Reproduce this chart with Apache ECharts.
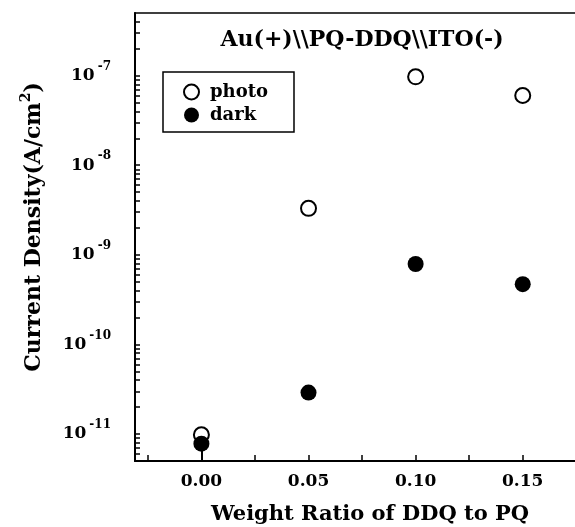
<!DOCTYPE html>
<html>
<head>
<meta charset="utf-8">
<script src="https://cdn.jsdelivr.net/npm/echarts@6/dist/echarts.min.js"></script>
<style>
html, body { margin: 0; padding: 0; background: #fff; }
#chart { width: 575px; height: 527px; }
</style>
</head>
<body>
<div id="chart"></div>
<script>
// weight ratio of DDQ to PQ
var ratios = [0.00, 0.05, 0.10, 0.15]
// current density, A/cm^2
var photo = [9.8e-12, 3.3e-9, 9.7e-8, 6.0e-8]
var dark = [7.8e-12, 2.9e-11, 7.9e-10, 4.7e-10]

var xLabelValues = [0, 0.05, 0.10, 0.15]
var xTickValues = [-0.025, 0, 0.025, 0.05, 0.075, 0.10, 0.125, 0.15, 0.175]
var yDecades = [-11, -10, -9, -8, -7]
var yMin = 5e-12
var yMax = 5e-7

var FONT = 'DejaVu Serif'

// y is drawn as log10 on a value axis so ticks can be placed exactly
var lo = Math.log10(yMin)
var hi = Math.log10(yMax)
var yTicks = []
for (var n = -12; n <= -7; n++) {
  for (var k = 1; k <= 9; k++) {
    var t = n + Math.log10(k)
    if (t > lo && t < hi) yTicks.push(t)
  }
}

function toPoints (vals) {
  return vals.map(function (v, i) { return [ratios[i], Math.log10(v)] })
}

var myChart = echarts.init(document.getElementById('chart'))

var option = {
  backgroundColor: '#fff',
  animation: false,
  title: {
    text: 'Au(+)\\\\PQ-DDQ\\\\ITO(-)',
    left: 357,
    top: 24,
    textAlign: 'center',
    textStyle: { fontFamily: FONT, fontWeight: 'bold', fontSize: 22, color: '#000' }
  },
  legend: {
    orient: 'vertical',
    left: 163,
    top: 72,
    padding: [11, 26, 8, 20],
    itemGap: 5,
    itemWidth: 15,
    itemHeight: 15,
    borderColor: '#000',
    borderWidth: 1.5,
    borderRadius: 0,
    textStyle: { fontFamily: FONT, fontWeight: 'bold', fontSize: 18, color: '#000', padding: [0, 0, 0, 6] },
    data: ['photo', 'dark']
  },
  grid: {
    left: 135,
    top: 13,
    width: 452,
    bottom: 66,
    outerBoundsMode: 'none',
    containLabel: false,
    show: true,
    borderColor: '#000',
    borderWidth: 1.5
  },
  xAxis: {
    type: 'value',
    min: -0.031,
    max: 0.18,
    name: 'Weight Ratio of DDQ to PQ',
    nameLocation: 'middle',
    nameGap: 43,
    nameTextStyle: { fontFamily: FONT, fontWeight: 'bold', fontSize: 21, color: '#000', padding: [0, 0, 0, 18] },
    splitLine: { show: false },
    axisLine: { onZero: false, lineStyle: { color: '#000', width: 2 } },
    axisTick: { inside: true, length: 6, customValues: xTickValues, lineStyle: { color: '#000', width: 1.5 } },
    axisLabel: {
      customValues: xLabelValues,
      margin: 12,
      fontFamily: FONT,
      fontWeight: 'bold',
      fontSize: 17,
      color: '#000',
      formatter: function (v) { return v.toFixed(2) }
    }
  },
  yAxis: {
    type: 'value',
    min: lo,
    max: hi,
    name: '{n|Current Density(A/cm}{p|2}{n|)}',
    nameLocation: 'middle',
    nameGap: 86,
    nameTextStyle: {
      padding: [0, 0, 0, 20],
      rich: {
        n: { fontFamily: FONT, fontWeight: 'bold', fontSize: 22, color: '#000', lineHeight: 30 },
        p: { fontFamily: FONT, fontWeight: 'bold', fontSize: 14, color: '#000', verticalAlign: 'top', lineHeight: 30 }
      }
    },
    splitLine: { show: false },
    axisLine: { onZero: false, lineStyle: { color: '#000', width: 2 } },
    axisTick: { inside: true, length: 5, customValues: yTicks, lineStyle: { color: '#000', width: 1.5 } },
    axisLabel: {
      customValues: yDecades,
      margin: 24,
      formatter: function (v) { return '{b|10}{s|' + Math.round(v) + '}' },
      rich: {
        b: { fontFamily: FONT, fontWeight: 'bold', fontSize: 17, color: '#000', lineHeight: 30 },
        s: { fontFamily: FONT, fontWeight: 'bold', fontSize: 12, color: '#000', verticalAlign: 'top', lineHeight: 12, padding: [0, 0, 0, 3] }
      }
    }
  },
  series: [
    {
      name: 'photo',
      type: 'scatter',
      symbol: 'circle',
      symbolSize: 15,
      itemStyle: { color: '#fff', borderColor: '#000', borderWidth: 2, opacity: 1 },
      data: toPoints(photo),
      z: 2
    },
    {
      name: 'dark',
      type: 'scatter',
      symbol: 'circle',
      symbolSize: 16,
      itemStyle: { color: '#000', opacity: 1 },
      data: toPoints(dark),
      z: 3,
      markLine: {
        silent: true,
        symbol: 'none',
        label: { show: false },
        lineStyle: { color: '#000', width: 2, type: 'solid' },
        data: [[
          { coord: [ratios[0], Math.log10(dark[0])] },
          { coord: [ratios[0], lo] }
        ]]
      }
    }
  ]
}
myChart.setOption(option, true)
</script>
</body>
</html>
